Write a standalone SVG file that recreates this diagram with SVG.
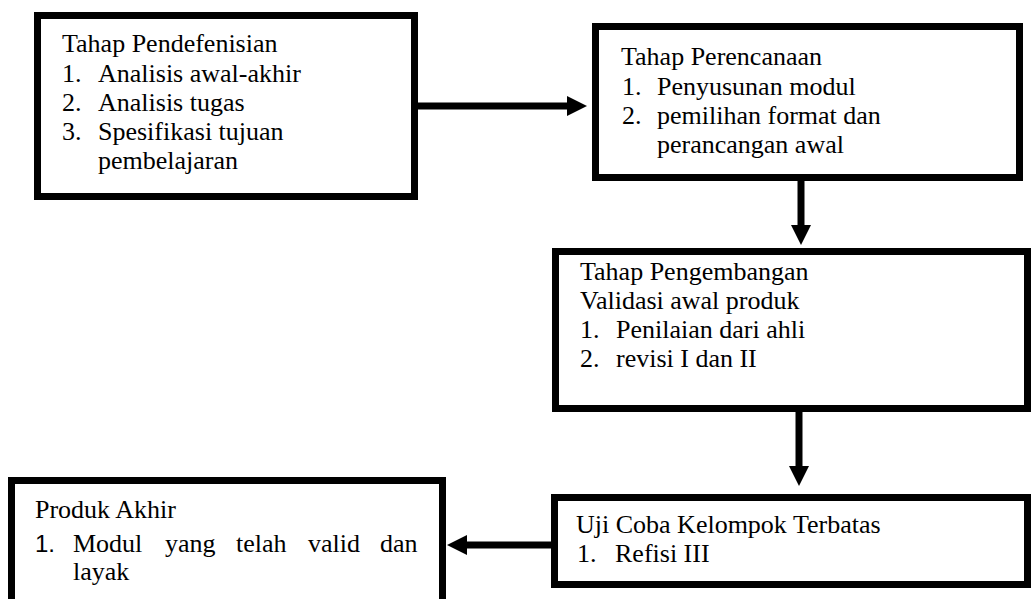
<svg xmlns="http://www.w3.org/2000/svg" width="1032" height="599" viewBox="0 0 1032 599">
<style>
.box{fill:#fff;stroke:#000;stroke-width:7}
.t{font-family:"Liberation Serif","Times New Roman",serif;font-size:26px;fill:#000}
.s{font-family:"Liberation Sans",Arial,sans-serif;font-size:24px;fill:#000}
.c{stroke:#000;stroke-width:7;fill:none}
</style>
<defs>
<marker id="ah" viewBox="0 0 20 20" markerWidth="20" markerHeight="20" refX="0" refY="10" orient="auto" markerUnits="userSpaceOnUse">
<path d="M0,0 L20,10 L0,20 z" fill="#000"/>
</marker>
</defs>
<rect width="1032" height="599" fill="#fff"/>
<g id="connectors">
<line class="c" x1="418" y1="106" x2="567" y2="106" marker-end="url(#ah)"/>
<line class="c" x1="801" y1="181" x2="801" y2="225" marker-end="url(#ah)"/>
<line class="c" x1="799" y1="412" x2="799" y2="466" marker-end="url(#ah)"/>
<line class="c" x1="551" y1="545" x2="467" y2="545" marker-end="url(#ah)"/>
</g>
<g id="n1">
<rect class="box" x="37.5" y="15.5" width="377" height="181"/>
<text class="t" x="62" y="52">Tahap Pendefenisian</text>
<text class="t" x="62" y="81.5">1.</text><text class="t" x="98" y="81.5">Analisis awal-akhir</text>
<text class="t" x="62" y="111">2.</text><text class="t" x="98" y="111">Analisis tugas</text>
<text class="t" x="62" y="140">3.</text><text class="t" x="98" y="140">Spesifikasi tujuan</text>
<text class="t" x="98" y="169">pembelajaran</text>
</g>
<g id="n2">
<rect class="box" x="595.5" y="26.5" width="424" height="151"/>
<text class="t" x="621" y="65">Tahap Perencanaan</text>
<text class="t" x="622" y="94.5">1.</text><text class="t" x="657" y="94.5">Penyusunan modul</text>
<text class="t" x="622" y="124">2.</text><text class="t" x="657" y="124">pemilihan format dan</text>
<text class="t" x="657" y="153">perancangan awal</text>
</g>
<g id="n3">
<rect class="box" x="555.5" y="251.5" width="472" height="157"/>
<text class="t" x="580" y="280">Tahap Pengembangan</text>
<text class="t" x="580" y="309">Validasi awal produk</text>
<text class="t" x="580" y="338">1.</text><text class="t" x="616" y="338">Penilaian dari ahli</text>
<text class="t" x="580" y="367">2.</text><text class="t" x="616" y="367">revisi I dan II</text>
</g>
<g id="n4">
<rect class="box" x="554.5" y="497.5" width="473" height="87"/>
<text class="t" x="576" y="533">Uji Coba Kelompok Terbatas</text>
<text class="t" x="577" y="562">1.</text><text class="t" x="615" y="562">Refisi III</text>
</g>
<g id="n5">
<rect class="box" x="11.5" y="480.5" width="431" height="130"/>
<text class="t" x="35" y="518">Produk Akhir</text>
<text class="s" x="35" y="552">1.</text>
<text class="t" x="73" y="552">Modul</text>
<text class="t" x="165" y="552">yang</text>
<text class="t" x="236" y="552">telah</text>
<text class="t" x="308" y="552">valid</text>
<text class="t" x="380" y="552">dan</text>
<text class="t" x="73" y="580">layak</text>
</g>
</svg>
